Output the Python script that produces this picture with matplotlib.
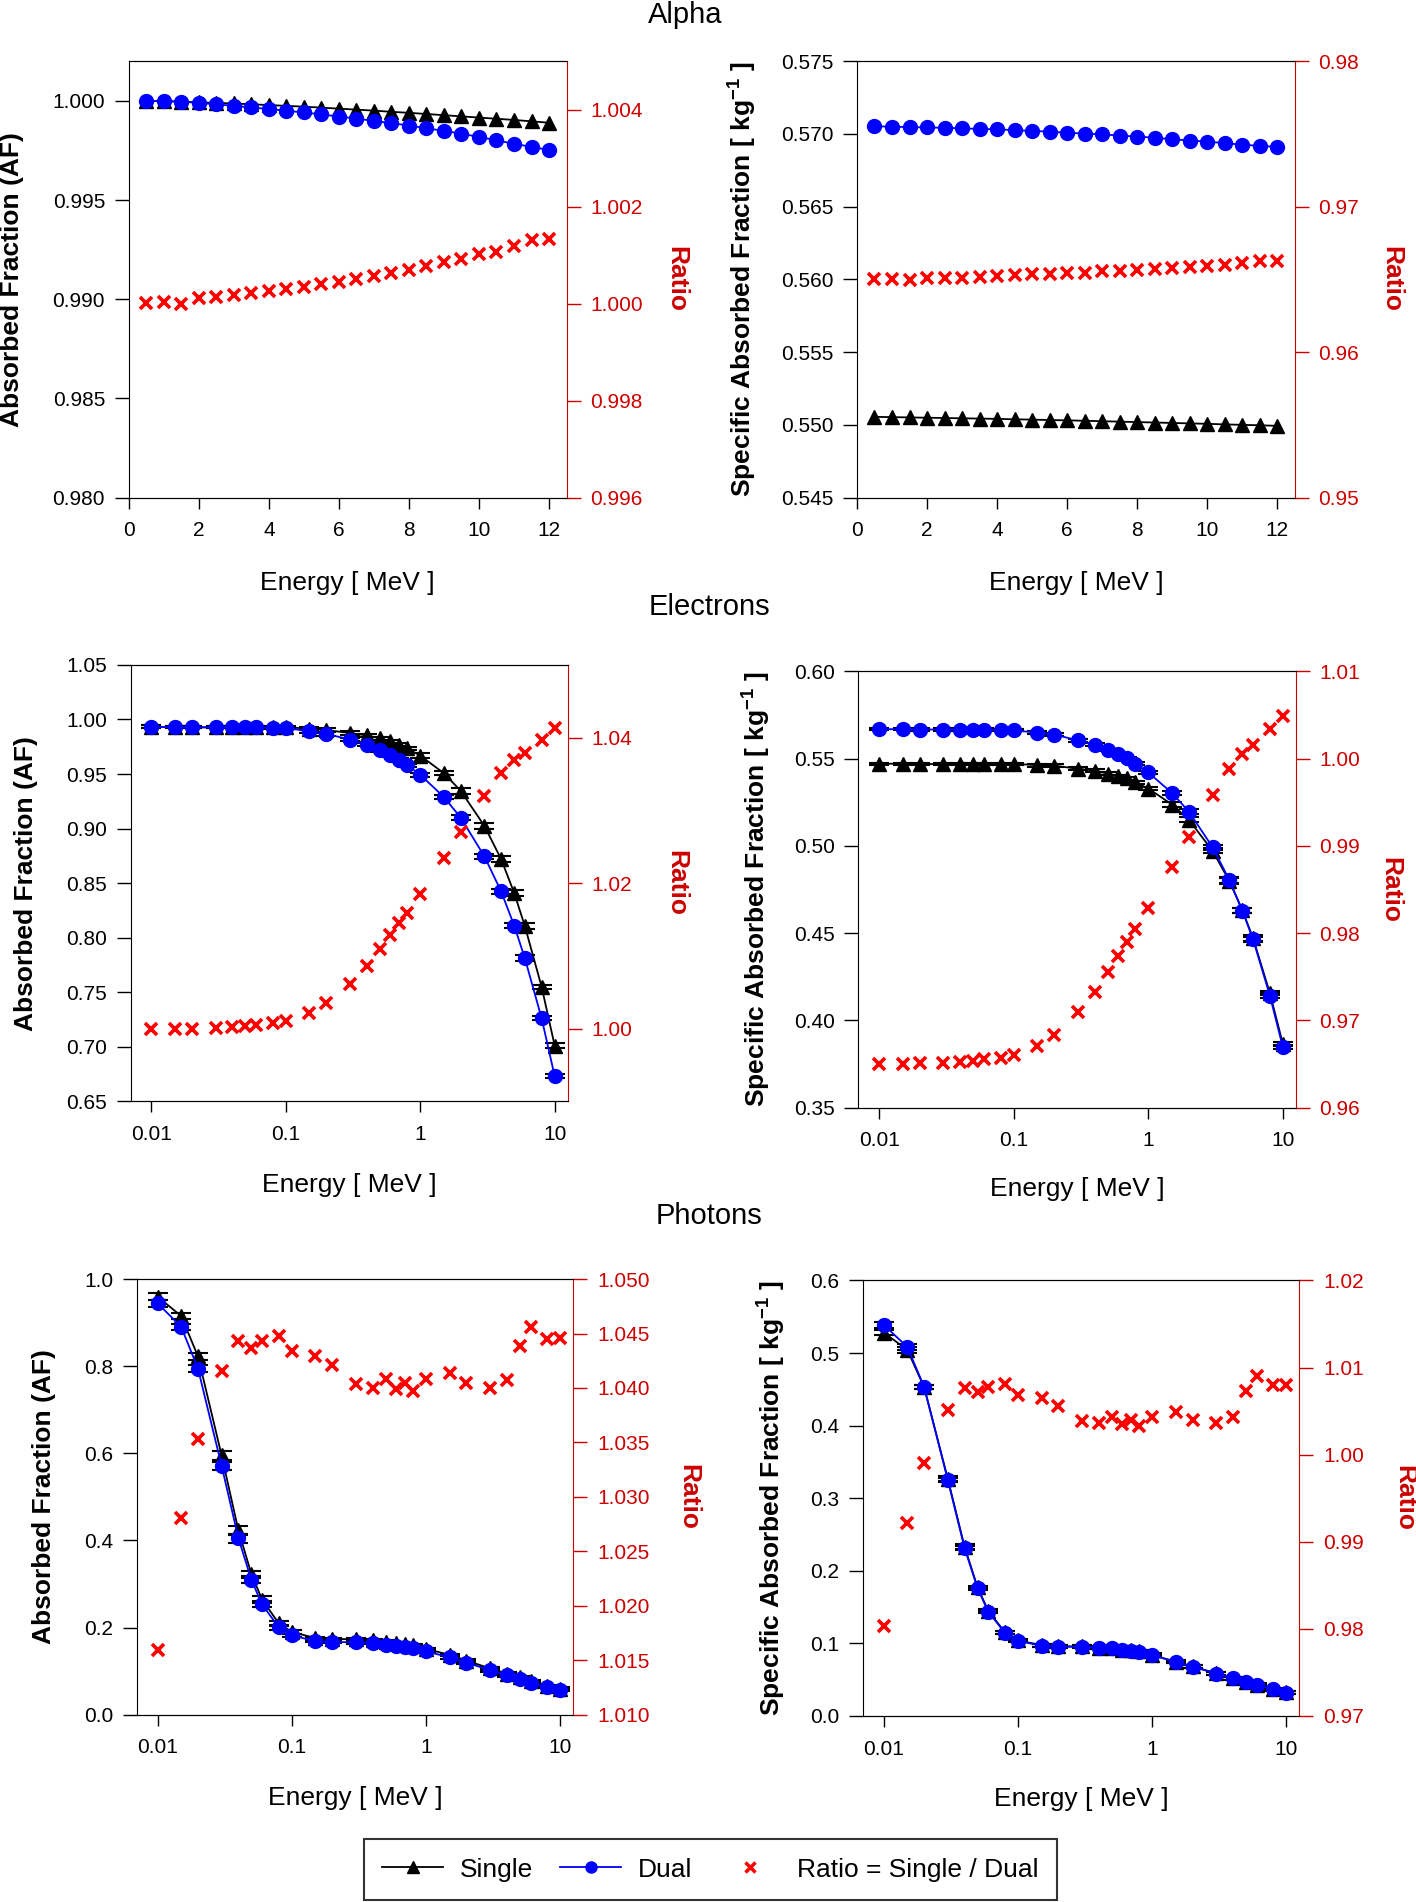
import matplotlib
matplotlib.use('Agg')
import matplotlib.pyplot as plt
from matplotlib.ticker import FixedLocator, FuncFormatter, NullLocator
from matplotlib.lines import Line2D

plt.rcParams['font.family'] = ['Liberation Sans', 'DejaVu Sans']
plt.rcParams['mathtext.fontset'] = 'custom'
plt.rcParams['mathtext.bf'] = 'Liberation Sans:bold'
plt.rcParams['mathtext.rm'] = 'Liberation Sans'

# ---------------- data ----------------
alpha_energy = [0.5, 1.0, 1.5, 2.0, 2.5, 3.0, 3.5, 4.0, 4.5, 5.0, 5.5, 6.0,
                6.5, 7.0, 7.5, 8.0, 8.5, 9.0, 9.5, 10.0, 10.5, 11.0, 11.5, 12.0]

alpha_af_single = [1.00000, 0.99998, 0.99996, 0.99993, 0.99990, 0.99987, 0.99983, 0.99979,
                   0.99975, 0.99971, 0.99966, 0.99961, 0.99956, 0.99951, 0.99945, 0.99940,
                   0.99934, 0.99928, 0.99922, 0.99916, 0.99910, 0.99904, 0.99897, 0.99890]
alpha_af_dual = [1.00000, 1.00000, 0.99996, 0.99990, 0.99983, 0.99975, 0.99967, 0.99959,
                 0.99950, 0.99942, 0.99932, 0.99921, 0.99911, 0.99899, 0.99888, 0.99876,
                 0.99862, 0.99849, 0.99835, 0.99818, 0.99802, 0.99783, 0.99769, 0.99752]
alpha_af_ratio = [1.00002, 1.00003, 1.00000, 1.00011, 1.00013, 1.00017, 1.00021, 1.00026,
                  1.00030, 1.00035, 1.00040, 1.00045, 1.00051, 1.00056, 1.00064, 1.00070,
                  1.00078, 1.00085, 1.00093, 1.00103, 1.00106, 1.00119, 1.00132, 1.00134]

alpha_saf_single = [0.55055, 0.55053, 0.55051, 0.55049, 0.55047, 0.55045, 0.55043, 0.55041,
                    0.55038, 0.55036, 0.55033, 0.55031, 0.55028, 0.55025, 0.55022, 0.55019,
                    0.55016, 0.55013, 0.55010, 0.55007, 0.55003, 0.55000, 0.54997, 0.54993]
alpha_saf_dual = [0.57053, 0.57050, 0.57047, 0.57045, 0.57042, 0.57039, 0.57034, 0.57032,
                  0.57026, 0.57021, 0.57016, 0.57008, 0.57003, 0.56997, 0.56989, 0.56982,
                  0.56974, 0.56963, 0.56955, 0.56947, 0.56937, 0.56926, 0.56918, 0.56911]
alpha_saf_ratio = [0.96500, 0.96500, 0.96497, 0.96508, 0.96508, 0.96513, 0.96518, 0.96521,
                   0.96529, 0.96534, 0.96537, 0.96545, 0.96547, 0.96555, 0.96561, 0.96566,
                   0.96571, 0.96579, 0.96587, 0.96595, 0.96600, 0.96613, 0.96624, 0.96624]

energy = [0.01, 0.015, 0.02, 0.03, 0.04, 0.05, 0.06, 0.08, 0.1, 0.15, 0.2, 0.3, 0.4,
          0.5, 0.6, 0.7, 0.8, 1.0, 1.5, 2.0, 3.0, 4.0, 5.0, 6.0, 8.0, 10.0]

elec_af_single = [0.9935, 0.9928, 0.9928, 0.9929, 0.9930, 0.9932, 0.9933, 0.9932, 0.9932,
                  0.9914, 0.9903, 0.9876, 0.9854, 0.9828, 0.9799, 0.9770, 0.9735, 0.9669,
                  0.9507, 0.9346, 0.9025, 0.8719, 0.8410, 0.8107, 0.7549, 0.7011]
elec_af_dual = [0.9935, 0.9928, 0.9928, 0.9928, 0.9928, 0.9928, 0.9928, 0.9925, 0.9921,
                0.9893, 0.9868, 0.9816, 0.9770, 0.9721, 0.9675, 0.9630, 0.9581, 0.9493,
                0.9289, 0.9100, 0.8746, 0.8423, 0.8111, 0.7812, 0.7261, 0.6732]
elec_af_ratio = [1.0000, 1.0000, 1.0000, 1.0001, 1.00016, 1.00037, 1.00053, 1.00074, 1.00106,
                 1.00211, 1.00354, 1.00612, 1.00865, 1.01098, 1.01282, 1.01451, 1.01594, 1.01847,
                 1.02343, 1.02702, 1.03193, 1.03509, 1.03689, 1.03784, 1.03974, 1.04137]
elec_af_err = [0.001, 0.001, 0.001, 0.001, 0.001, 0.001, 0.001, 0.001, 0.001, 0.0015,
               0.0015, 0.0015, 0.0015, 0.0015, 0.0015, 0.0015, 0.0015, 0.002, 0.002, 0.0025,
               0.0025, 0.0025, 0.0025, 0.0025, 0.002, 0.002]

elec_saf_single = [0.5471, 0.5471, 0.5469, 0.5469, 0.5470, 0.5471, 0.5472, 0.5470, 0.5470,
                   0.5463, 0.5460, 0.5442, 0.5432, 0.5414, 0.5399, 0.5387, 0.5364, 0.5329,
                   0.5237, 0.5150, 0.4972, 0.4799, 0.4631, 0.4472, 0.4157, 0.3865]
elec_saf_dual = [0.5669, 0.5669, 0.5667, 0.5667, 0.5667, 0.5667, 0.5667, 0.5664, 0.5662,
                 0.5649, 0.5638, 0.5605, 0.5581, 0.5550, 0.5524, 0.5502, 0.5471, 0.5421,
                 0.5303, 0.5197, 0.4993, 0.4805, 0.4629, 0.4465, 0.4143, 0.3846]
elec_saf_ratio = [0.96504, 0.96504, 0.96509, 0.96513, 0.96526, 0.96539, 0.96553, 0.96575, 0.96601,
                  0.96711, 0.96838, 0.97092, 0.97329, 0.97557, 0.97741, 0.97904, 0.98047, 0.98294,
                  0.98759, 0.99101, 0.99583, 0.99882, 1.00048, 1.00154, 1.00338, 1.00491]
elec_saf_err = [0.0006, 0.0006, 0.0006, 0.0006, 0.0006, 0.0006, 0.0006, 0.0006, 0.0006, 0.0008,
                0.0008, 0.0008, 0.0008, 0.0008, 0.0008, 0.0008, 0.0008, 0.001, 0.0012, 0.0015,
                0.0015, 0.0015, 0.0015, 0.0015, 0.0012, 0.0012]

phot_af_single = [0.9596, 0.9152, 0.8225, 0.5950, 0.4230, 0.3228, 0.2643, 0.2094, 0.1898,
                  0.1759, 0.1740, 0.1728, 0.1709, 0.1674, 0.1645, 0.1618, 0.1599, 0.1509,
                  0.1373, 0.1243, 0.1060, 0.0942, 0.0853, 0.0762, 0.0661, 0.0596]
phot_af_dual = [0.9446, 0.8902, 0.7944, 0.5712, 0.4051, 0.3093, 0.2531, 0.2004, 0.1819,
                0.1687, 0.1670, 0.1661, 0.1643, 0.1608, 0.1582, 0.1555, 0.1538, 0.1450,
                0.1318, 0.1195, 0.1019, 0.0905, 0.0817, 0.0729, 0.0633, 0.0571]
phot_af_ratio = [1.01591, 1.02803, 1.03534, 1.04160, 1.04427, 1.04367, 1.04427, 1.04473, 1.04336,
                 1.04297, 1.04209, 1.04037, 1.04002, 1.04079, 1.03995, 1.04047, 1.03970, 1.04079,
                 1.04135, 1.04044, 1.04002, 1.04076, 1.04388, 1.04564, 1.04452, 1.04459]
phot_af_err = [0.008, 0.006, 0.008, 0.010, 0.010, 0.008, 0.007, 0.005, 0.004, 0.003,
               0.003, 0.003, 0.003, 0.003, 0.003, 0.003, 0.003, 0.003, 0.003, 0.003,
               0.003, 0.003, 0.003, 0.003, 0.003, 0.003]

phot_saf_single = [0.5282, 0.5043, 0.4530, 0.3270, 0.2333, 0.1774, 0.1450, 0.1153, 0.1040,
                   0.0976, 0.0959, 0.0958, 0.0941, 0.0937, 0.0915, 0.0906, 0.0889, 0.0842,
                   0.0747, 0.0683, 0.0587, 0.0519, 0.0467, 0.0431, 0.0372, 0.0325]
phot_saf_dual = [0.5388, 0.5083, 0.4534, 0.3253, 0.2315, 0.1761, 0.1439, 0.1144, 0.1033,
                 0.0970, 0.0954, 0.0954, 0.0938, 0.0933, 0.0912, 0.0902, 0.0886, 0.0838,
                 0.0743, 0.0680, 0.0585, 0.0517, 0.0464, 0.0427, 0.0369, 0.0322]
phot_saf_ratio = [0.98037, 0.99210, 0.99909, 1.00515, 1.00770, 1.00717, 1.00774, 1.00814, 1.00682,
                  1.00647, 1.00563, 1.00388, 1.00366, 1.00436, 1.00352, 1.00401, 1.00330, 1.00436,
                  1.00493, 1.00401, 1.00366, 1.00431, 1.00735, 1.00902, 1.00796, 1.00801]
phot_saf_err = [0.004, 0.004, 0.003, 0.003, 0.003, 0.002, 0.002, 0.002, 0.002, 0.002,
                0.002, 0.002, 0.002, 0.002, 0.002, 0.002, 0.002, 0.002, 0.002, 0.002,
                0.002, 0.002, 0.002, 0.002, 0.002, 0.002]

AF_LABEL = 'Absorbed Fraction (AF)'
SAF_LABEL = r'Specific Absorbed Fraction [ kg$^{\mathbf{-1}}$ ]'

RED_TXT = '#cc0000'
RED_MK = '#ff0000'
BLUE = '#0000ff'


def fmt(decimals):
    return FuncFormatter(lambda v, pos: f'{v:.{decimals}f}')


def draw_panel(rect, x, single, dual, ratio, err_s, err_d, log,
               ylim, yticks, ydec, rlim, rticks, rdec, ylabel,
               ylab_x, rlab_x, xlab_y):
    ax = fig.add_axes(rect)
    if err_s is None:
        ax.plot(x, single, '-^', color='black', lw=1.3, ms=10, zorder=3)
        ax.plot(x, dual, '-o', color=BLUE, lw=1.3, ms=10, zorder=4)
    else:
        ax.errorbar(x, single, yerr=err_s, fmt='-^', color='black', lw=1.3, ms=10,
                    ecolor='black', elinewidth=1.2, capsize=7, capthick=1.5, zorder=3)
        ax.errorbar(x, dual, yerr=err_d, fmt='-o', color=BLUE, lw=1.3, ms=10,
                    ecolor='black', elinewidth=1.2, capsize=7, capthick=1.5, zorder=4)

    if log:
        ax.set_xscale('log')
        ax.set_xlim(0.007, 12.5)
        ax.xaxis.set_major_locator(FixedLocator([0.01, 0.1, 1, 10]))
        ax.xaxis.set_major_formatter(FuncFormatter(lambda v, pos: f'{v:g}'))
        ax.xaxis.set_minor_locator(NullLocator())
    else:
        ax.set_xlim(0, 12.5)
        ax.set_xticks([0, 2, 4, 6, 8, 10, 12])
    ax.set_ylim(*ylim)
    ax.set_yticks(yticks)
    ax.yaxis.set_major_formatter(fmt(ydec))
    ax.tick_params(axis='x', direction='out', length=8, width=1, labelsize=15, pad=9)
    ax.tick_params(axis='y', direction='out', length=10, width=1, labelsize=15, pad=7)
    ax.spines['right'].set_visible(False)

    ax.set_xlabel('Energy [ MeV ]', fontsize=19, va='center')
    ax.xaxis.set_label_coords(0.5, xlab_y)
    ax.set_ylabel(ylabel, fontsize=19, fontweight='bold', va='center')
    ax.yaxis.set_label_coords(ylab_x, 0.5)

    ax2 = ax.twinx()
    ax2.plot(x, ratio, 'x', color=RED_MK, ms=9, mew=2.6, ls='none', zorder=5)
    ax2.set_ylim(*rlim)
    ax2.set_yticks(rticks)
    ax2.yaxis.set_major_formatter(fmt(rdec))
    ax2.tick_params(axis='y', direction='out', length=10, width=1, labelsize=15,
                    pad=7, colors=RED_TXT)
    ax2.spines['right'].set_color(RED_TXT)
    ax2.spines['left'].set_visible(False)
    ax2.set_ylabel('Ratio', fontsize=19, fontweight='bold', color=RED_TXT,
                   rotation=-90, va='center')
    ax2.yaxis.set_label_coords(rlab_x, 0.5)
    return ax, ax2


fig = plt.figure(figsize=(14.16, 19.02), dpi=100)

# Alpha
draw_panel([0.0909, 0.7384, 0.3092, 0.2294], alpha_energy,
           alpha_af_single, alpha_af_dual, alpha_af_ratio, None, None, False,
           (0.980, 1.002), [0.980, 0.985, 0.990, 0.995, 1.000], 3,
           (0.996, 1.005), [0.996, 0.998, 1.000, 1.002, 1.004], 3,
           AF_LABEL, -0.2666, 1.25, -0.195)
draw_panel([0.6052, 0.7384, 0.3093, 0.2294], alpha_energy,
           alpha_saf_single, alpha_saf_dual, alpha_saf_ratio, None, None, False,
           (0.545, 0.575), [0.545, 0.550, 0.555, 0.560, 0.565, 0.570, 0.575], 3,
           (0.95, 0.98), [0.95, 0.96, 0.97, 0.98], 2,
           SAF_LABEL, -0.264, 1.221, -0.195)

# Electrons
draw_panel([0.0922, 0.4210, 0.3087, 0.2294], energy,
           elec_af_single, elec_af_dual, elec_af_ratio, elec_af_err, elec_af_err, True,
           (0.65, 1.05), [0.65, 0.70, 0.75, 0.80, 0.85, 0.90, 0.95, 1.00, 1.05], 2,
           (0.99, 1.05), [1.00, 1.02, 1.04], 2,
           AF_LABEL, -0.240, 1.248, -0.193)
draw_panel([0.6062, 0.4176, 0.3090, 0.2294], energy,
           elec_saf_single, elec_saf_dual, elec_saf_ratio, elec_saf_err, elec_saf_err, True,
           (0.35, 0.60), [0.35, 0.40, 0.45, 0.50, 0.55, 0.60], 2,
           (0.96, 1.01), [0.96, 0.97, 0.98, 0.99, 1.00, 1.01], 2,
           SAF_LABEL, -0.236, 1.216, -0.186)

# Photons
draw_panel([0.0966, 0.0985, 0.3083, 0.2290], energy,
           phot_af_single, phot_af_dual, phot_af_ratio, phot_af_err, phot_af_err, True,
           (0.0, 1.0), [0.0, 0.2, 0.4, 0.6, 0.8, 1.0], 1,
           (1.010, 1.050), [1.010, 1.015, 1.020, 1.025, 1.030, 1.035, 1.040, 1.045, 1.050], 3,
           AF_LABEL, -0.2125, 1.264, -0.191)
draw_panel([0.6094, 0.0978, 0.3083, 0.2290], energy,
           phot_saf_single, phot_saf_dual, phot_saf_ratio, phot_saf_err, phot_saf_err, True,
           (0.0, 0.6), [0.0, 0.1, 0.2, 0.3, 0.4, 0.5, 0.6], 1,
           (0.97, 1.02), [0.97, 0.98, 0.99, 1.00, 1.01, 1.02], 2,
           SAF_LABEL, -0.2116, 1.239, -0.191)

fig.text(0.484, 0.9923, 'Alpha', fontsize=21, ha='center', va='center')
fig.text(0.501, 0.681, 'Electrons', fontsize=21, ha='center', va='center')
fig.text(0.501, 0.3608, 'Photons', fontsize=21, ha='center', va='center')

handles = [Line2D([], [], color='black', marker='^', ms=8, lw=1.3),
           Line2D([], [], color=BLUE, marker='o', ms=8, lw=1.3),
           Line2D([], [], color=RED_MK, marker='x', ms=7, mew=2.5, ls='none')]
labels = ['Single', 'Dual', 'Ratio = Single / Dual']
leg = fig.legend(handles, labels, loc='lower center', bbox_to_anchor=(0.5017, 0.001),
                 borderaxespad=0, ncol=3, frameon=True, fancybox=False, edgecolor='black',
                 fontsize=19, handlelength=2.3, columnspacing=1.04, borderpad=0.7,
                 handletextpad=0.63)
leg.get_frame().set_linewidth(1.5)

fig.savefig('out.png', dpi=100)
